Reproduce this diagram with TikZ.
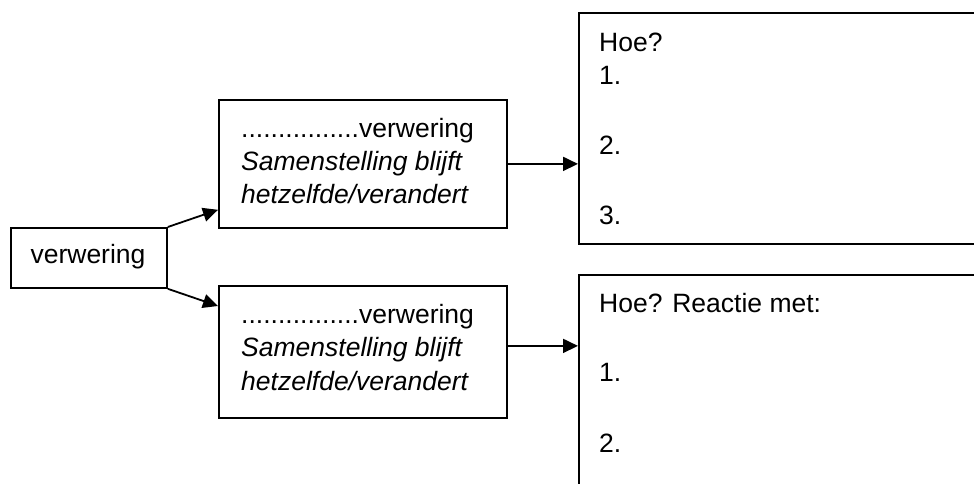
\documentclass[tikz,border=0pt]{standalone}
\usepackage{fontspec}
\setmainfont{Liberation Sans}
\usetikzlibrary{arrows.meta}
\begin{document}
\begin{tikzpicture}[x=1bp,y=-1bp,
  box/.style={draw,line width=1.8bp,inner sep=0pt,anchor=north west},
  txt/.style={anchor=base west,inner sep=0pt},
  arr/.style={line width=1.8bp,-{Triangle[length=15bp,width=14bp]}},
  every node/.style={font=\fontsize{26.5bp}{33bp}\selectfont}]
\path[use as bounding box,clip] (0,0) rectangle (974,484);
\fill[white] (0,0) rectangle (974,484);
% boxes
\node[box,minimum width=156bp,minimum height=60bp] (v) at (10,227) {};
\node[box,minimum width=288bp,minimum height=128bp] (m1) at (218,99) {};
\node[box,minimum width=288bp,minimum height=132bp] (m2) at (218,285) {};
\node[box,minimum width=420bp,minimum height=231bp] (r1) at (578,12) {};
\node[box,minimum width=420bp,minimum height=240bp] (r2) at (578,274) {};
% texts
\node[anchor=base,inner sep=0pt] (tv) at (88,264) {verwering};
\node[txt] (a1) at (241,138) {................verwering};
\node[txt] (a2) at (241,171) {\itshape Samenstelling blijft};
\node[txt] (a3) at (241,204) {\itshape hetzelfde/verandert};
\node[txt] (b1) at (241,324) {................verwering};
\node[txt] (b2) at (241,357) {\itshape Samenstelling blijft};
\node[txt] (b3) at (241,390) {\itshape hetzelfde/verandert};
\node[txt] (c0) at (599,52) {Hoe?};
\node[txt] (c1) at (599,85) {1.};
\node[txt] (c2) at (599,155) {2.};
\node[txt] (c3) at (599,225) {3.};
\node[txt] (d0) at (599,313) {Hoe? Reactie met:};
\node[txt] (d1) at (599,382) {1.};
\node[txt] (d2) at (599,452) {2.};
% connectors
\draw[arr] (v.north east) -- ([yshift=19bp]m1.south west);
\draw[arr] (v.south east) -- ([yshift=-21bp]m2.north west);
\draw[arr] (m1.east) -- (m1.east -| r1.west);
\draw[arr] ([yshift=6bp]m2.east) -- ([yshift=6bp]m2.east -| r2.west);
\end{tikzpicture}
\end{document}
